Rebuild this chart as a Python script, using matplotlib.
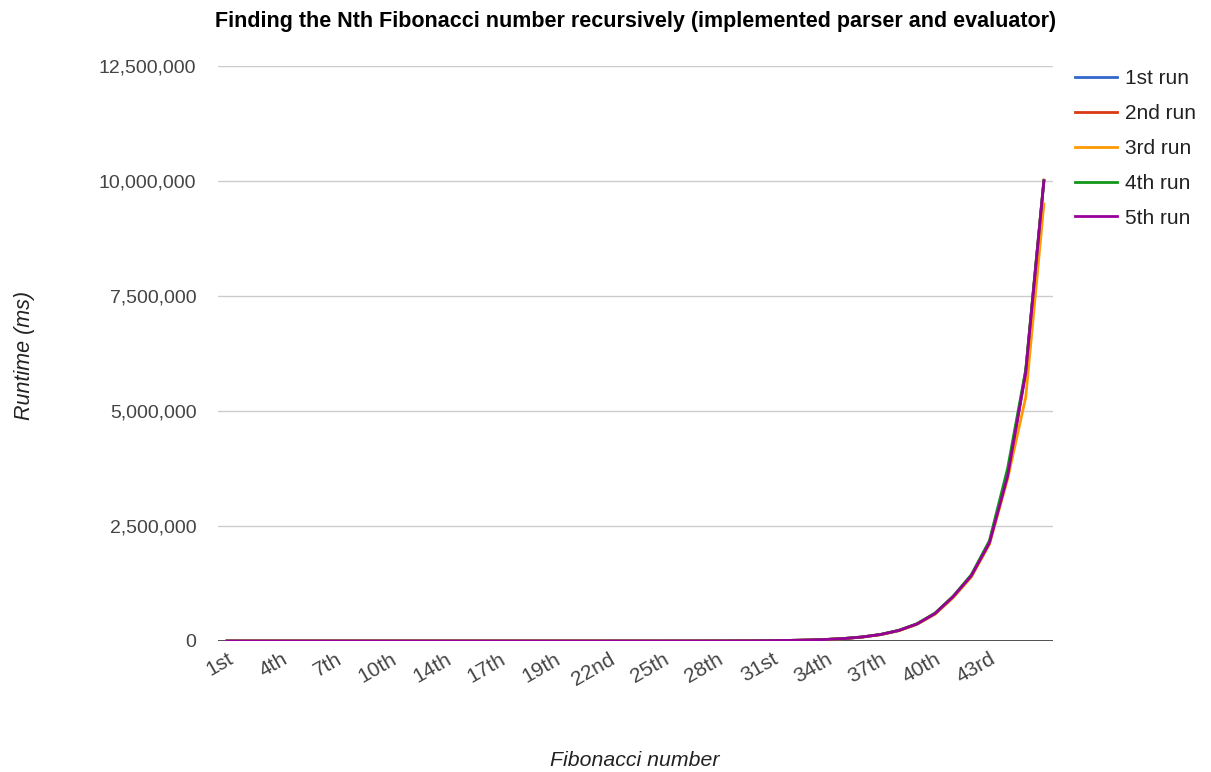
import matplotlib
matplotlib.use("Agg")
import matplotlib.pyplot as plt
from matplotlib.ticker import FuncFormatter, MultipleLocator

plt.rcParams['font.family'] = ['Liberation Sans', 'DejaVu Sans']

# Category labels for each measured Fibonacci index (as recorded)
categories = (
    ["1st", "2nd", "3rd", "4th", "5th", "6th", "7th", "8th", "9th", "10th", "11th",
     "13th", "14th", "15th", "16th", "17th", "18th", "18th",
     "19th", "20th", "21st", "22nd", "23rd", "24th", "25th", "26th", "27th", "28th",
     "29th", "30th", "31st", "32nd", "33rd", "34th", "35th", "36th", "37th", "38th",
     "39th", "40th", "41st", "42nd", "43rd", "44th", "45th", "46th"]
)

# Runtime per run (ms)
run1 = [0, 0, 0, 0, 0, 0, 0, 0, 0, 1, 1, 1, 2, 3, 4,
        6, 9, 15, 24, 39, 63, 102, 165, 268, 433,
        702, 1135, 1838, 2975, 4812, 7790, 12600, 20390, 33000, 53400,
        86400, 139800, 226000, 366000, 592000, 958000, 1410000, 2140000, 3600000, 5850000, 10000000]
run2 = [0, 0, 0, 0, 0, 0, 0, 0, 1, 1, 1, 1, 2, 3, 4,
        6, 10, 15, 25, 40, 64, 104, 168, 272, 440,
        712, 1150, 1860, 3010, 4870, 7880, 12750, 20620, 33400, 54000,
        87300, 141200, 228500, 369500, 598000, 965000, 1420000, 2150000, 3620000, 5870000, 10020000]
run3 = [0, 0, 0, 0, 0, 0, 0, 0, 0, 1, 1, 1, 2, 3, 4,
        6, 9, 15, 24, 38, 62, 100, 162, 263, 425,
        690, 1115, 1805, 2920, 4725, 7650, 12380, 20030, 32400, 52450,
        84900, 137300, 222000, 359000, 581000, 940000, 1390000, 2100000, 3520000, 5300000, 9500000]
run4 = [0, 0, 0, 0, 0, 0, 0, 0, 1, 1, 1, 1, 2, 3, 4,
        6, 10, 16, 25, 40, 65, 105, 170, 275, 445,
        720, 1165, 1885, 3050, 4935, 7985, 12920, 20900, 33800, 54700,
        88500, 143000, 231500, 374500, 606000, 975000, 1440000, 2180000, 3750000, 5900000, 10010000]
run5 = [0, 0, 0, 0, 0, 0, 0, 0, 0, 1, 1, 1, 2, 3, 4,
        6, 9, 15, 24, 39, 63, 103, 166, 270, 436,
        706, 1142, 1848, 2990, 4838, 7830, 12670, 20500, 33170, 53670,
        86840, 140500, 227300, 367800, 595000, 962000, 1415000, 2130000, 3580000, 5830000, 10000000]

series_names = ["1st run", "2nd run", "3rd run", "4th run", "5th run"]
series_values = [run1, run2, run3, run4, run5]
colors = ["#3366cc", "#dc3912", "#ff9900", "#109618", "#990099"]

fig = plt.figure(figsize=(12.11, 7.72), dpi=100)
ax = fig.add_axes([0.18, 0.1697, 0.6895, 0.7448])

x = list(range(len(categories)))
for name, vals, col in zip(series_names, series_values, colors):
    ax.plot(x, vals, color=col, lw=2.0, label=name, solid_joinstyle='round')

ax.set_xlim(-0.5, len(categories) - 0.5)
ax.set_ylim(0, 12500000)
ax.yaxis.set_major_locator(MultipleLocator(2500000))
ax.yaxis.set_major_formatter(FuncFormatter(lambda v, p: f"{int(v):,}"))
ax.grid(axis='y', color='#cccccc', lw=1)
ax.set_axisbelow(True)
ax.axhline(0, color='#333333', lw=1.2, zorder=1.5)

for s in ax.spines.values():
    s.set_visible(False)

# every third category gets a label, up to the 43rd
tick_idx = list(range(0, 43, 3))
ax.set_xticks(tick_idx)
ax.set_xticklabels([categories[i] for i in tick_idx], rotation=30, ha='right',
                   va='top', rotation_mode='anchor', fontsize=15, color='#444444')
ax.tick_params(axis='x', length=0, pad=6)
ax.tick_params(axis='y', length=0, pad=15.5, labelsize=14, labelcolor='#444444')

ax.set_title("Finding the Nth Fibonacci number recursively (implemented parser and evaluator)",
             fontsize=15.5, fontweight='bold', color='#000000', pad=28, loc='center', x=0.5)

fig.text(0.02, 0.54, "Runtime (ms)", rotation=90, ha='center', va='center',
         fontsize=15.5, style='italic', color='#222222')
fig.text(0.524, 0.003, "Fibonacci number", ha='center', va='bottom',
         fontsize=15.3, style='italic', color='#222222')

fig.legend(loc='upper left', bbox_to_anchor=(0.881, 0.921), frameon=False,
           fontsize=15, handlelength=2.0, handletextpad=0.4, labelspacing=0.76,
           borderaxespad=0, labelcolor='#222222')

fig.savefig("out.png", dpi=100, facecolor='white')
